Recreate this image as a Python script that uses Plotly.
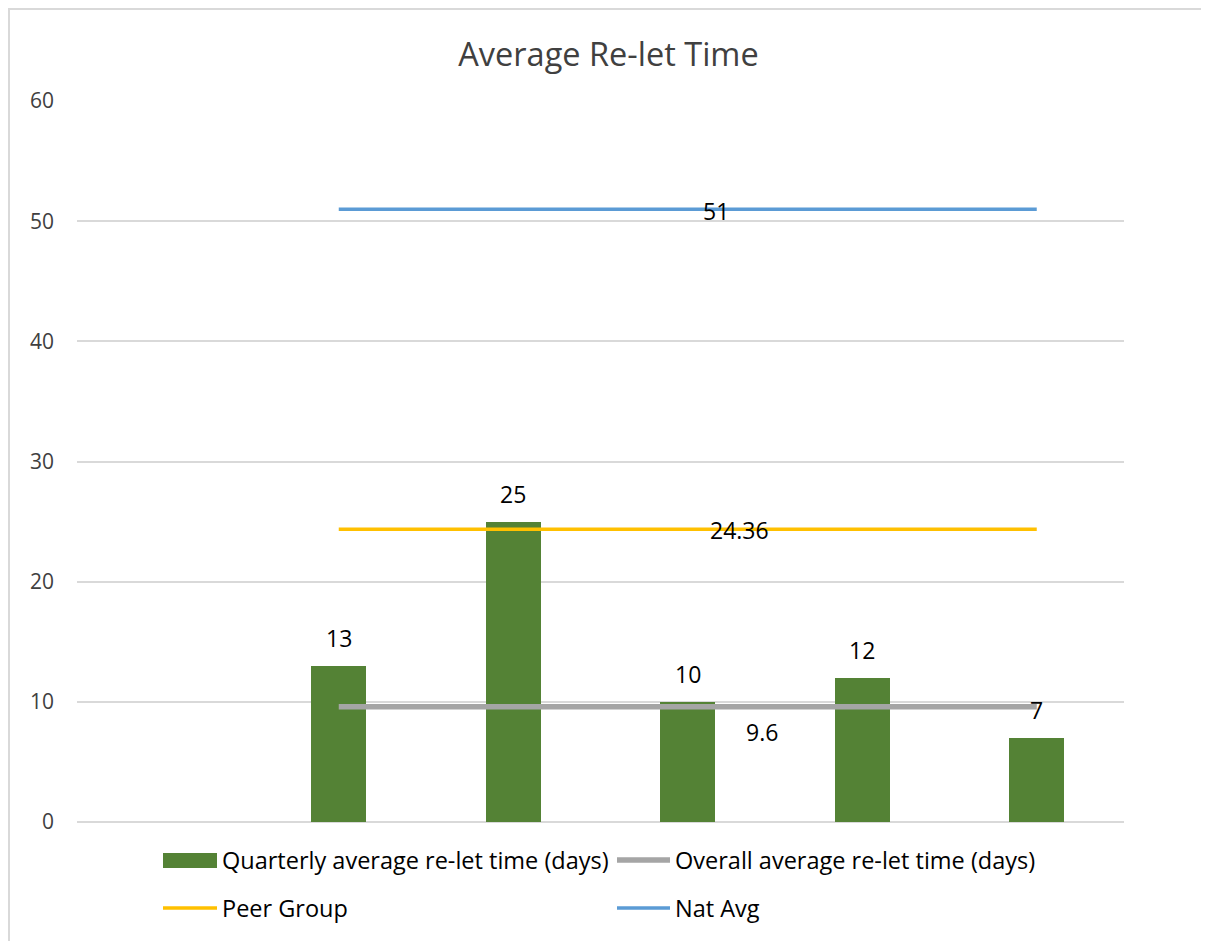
import plotly.graph_objects as go

# ---- data ----
bar_x = [1, 2, 3, 4, 5]             # six category slots (0..5); first one empty
quarterly = [13, 25, 10, 12, 7]
overall_val = 9.6
peer_val = 24.36
nat_val = 51
series_names = ["Quarterly average re-let time (days)",
                "Overall average re-let time (days)",
                "Peer Group", "Nat Avg"]
y_ticks = [0, 10, 20, 30, 40, 50, 60]

# page has an 8px body margin; figure is placed so the plot lands where the reference has it
O = 8
W, H = 1209 - 2 * O, 941 - O
PW, PH = 1047, 721
L, T = 77 - O, 101 - O
R = W - (L + PW)
B = H - (T + PH)


def px(xp):  # screen x -> paper x
    return (xp - 77) / PW


def py(yp):  # screen y -> paper y
    return (822 - yp) / PH


GREEN = "#548235"
GRAY = "#a5a5a5"
YELLOW = "#ffc000"
BLUE = "#5b9bd5"
FONT = "Open Sans"

fig = go.Figure()
fig.add_trace(go.Bar(x=bar_x, y=quarterly, width=0.315, marker=dict(color=GREEN, line=dict(width=0)),
                     name=series_names[0], showlegend=False))
fig.add_trace(go.Scatter(x=bar_x, y=[overall_val] * len(bar_x), mode="lines",
                         line=dict(color=GRAY, width=5.5), name=series_names[1], showlegend=False))
fig.add_trace(go.Scatter(x=bar_x, y=[peer_val] * len(bar_x), mode="lines",
                         line=dict(color=YELLOW, width=3.5), name=series_names[2], showlegend=False))
fig.add_trace(go.Scatter(x=bar_x, y=[nat_val] * len(bar_x), mode="lines",
                         line=dict(color=BLUE, width=3.5), name=series_names[3], showlegend=False))

annotations = []
for xv, v in zip(bar_x, quarterly):
    annotations.append(dict(x=xv, y=v, xref="x", yref="y", text=str(v), showarrow=False,
                            yshift=28, font=dict(family=FONT, size=23, color="#000000")))
# line labels
for val, xs, ys in [(nat_val, 28, -2), (peer_val, 52, -1), (overall_val, 74, -25)]:
    annotations.append(dict(x=3, y=val, xref="x", yref="y", text=str(val), showarrow=False,
                            xshift=xs, yshift=ys, font=dict(family=FONT, size=23, color="#000000")))

# manual legend
shapes = []
shapes.append(dict(type="rect", xref="paper", yref="paper", x0=px(163), x1=px(217), y0=py(868), y1=py(853),
                   fillcolor=GREEN, line=dict(width=0)))
for (x0, x1, yy, c, w) in [(617, 670, 860, GRAY, 5.5), (163, 217, 908, YELLOW, 3.5), (617, 670, 908, BLUE, 3.5)]:
    shapes.append(dict(type="line", xref="paper", yref="paper", x0=px(x0), x1=px(x1), y0=py(yy), y1=py(yy),
                       line=dict(color=c, width=w)))
for (x0, yy, t) in [(220, 860, series_names[0]), (673, 860, series_names[1]),
                    (220, 908, series_names[2]), (673, 908, series_names[3])]:
    annotations.append(dict(x=px(x0), y=py(yy), xref="paper", yref="paper", text=t, showarrow=False,
                            xanchor="left", yanchor="middle",
                            font=dict(family=FONT, size=23.5, color="#000000")))

# chart border (left and top)
shapes.append(dict(type="line", xref="paper", yref="paper", x0=px(9), x1=px(9), y0=py(945), y1=py(8),
                   line=dict(color="#d9d9d9", width=2)))
shapes.append(dict(type="line", xref="paper", yref="paper", x0=px(8), x1=px(1201), y0=py(9), y1=py(9),
                   line=dict(color="#d9d9d9", width=2)))

fig.update_layout(
    width=W, height=H,
    margin=dict(l=L, r=R, t=T, b=B, pad=0),
    paper_bgcolor="white", plot_bgcolor="white",
    title=dict(text="Average Re-let Time", x=px(604), xanchor="center", y=1 - (55 - O) / H, yanchor="middle",
               font=dict(family=FONT, size=32.5, color="#404040")),
    xaxis=dict(range=[-0.5, 5.5], showticklabels=False, showgrid=False, zeroline=False,
               showline=False, ticks=""),
    yaxis=dict(range=[0, 60], tickvals=y_ticks, showgrid=True, gridcolor="#d9d9d9", gridwidth=1.5,
               zeroline=True, zerolinecolor="#d9d9d9", zerolinewidth=1.5, showline=False,
               ticks="", ticklabelstandoff=22,
               tickfont=dict(family=FONT, size=21, color="#404040")),
    annotations=annotations, shapes=shapes, showlegend=False,
    bargap=0,
)

fig.write_html("out.html")
